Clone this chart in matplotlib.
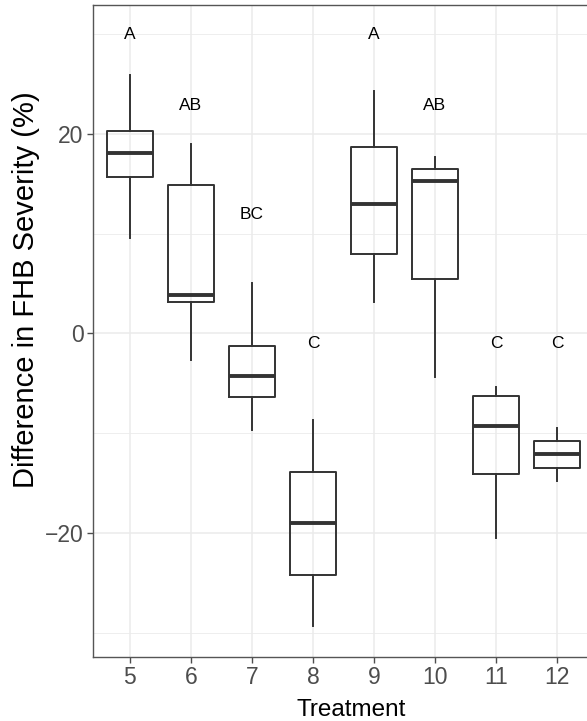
import matplotlib.pyplot as plt
import numpy as np

plt.rcParams['font.family'] = ['Liberation Sans', 'DejaVu Sans']

# box summary per treatment
treatments = ['5', '6', '7', '8', '9', '10', '11', '12']
whisker_low = [9.6, -2.7, -9.7, -29.3, 3.1, -4.4, -20.5, -14.8]
q1 = [15.7, 3.1, -6.4, -24.2, 8.0, 5.4, -14.1, -13.5]
medians = [18.1, 3.8, -4.3, -19.0, 13.0, 15.3, -9.3, -12.1]
q3 = [20.3, 14.9, -1.3, -13.9, 18.7, 16.5, -6.3, -10.8]
whisker_high = [25.9, 19.0, 5.0, -8.7, 24.3, 17.7, -5.4, -9.5]

# significance letters and their heights
letters = ['A', 'AB', 'BC', 'C', 'A', 'AB', 'C', 'C']
letter_y = [29.9, 22.8, 11.9, -1.0, 29.9, 22.8, -1.0, -1.0]

stats = []
for i in range(len(treatments)):
    stats.append(dict(whislo=whisker_low[i], q1=q1[i], med=medians[i],
                      q3=q3[i], whishi=whisker_high[i], fliers=[]))

fig = plt.figure(figsize=(5.87, 7.21), dpi=100)
ax = fig.add_axes([93.3 / 587, 1 - 656.7 / 721, (593.6 - 93.3) / 587, (656.7 - 5) / 721])

x = np.arange(1, len(treatments) + 1)
line = dict(color='#333333', linewidth=1.4)
ax.bxp(stats, positions=x, widths=0.75, showfliers=False, showcaps=False,
       boxprops=line, whiskerprops=line,
       medianprops=dict(color='#333333', linewidth=2.8, solid_capstyle='butt'),
       zorder=3)

for xi, lab, yi in zip(x, letters, letter_y):
    ax.text(xi, yi, lab, ha='center', va='center', fontsize=12.5, color='black')

ax.set_xlim(0.4, len(treatments) + 0.6)
ax.set_ylim(-32.4, 32.9)
ax.set_xticks(x)
ax.set_xticklabels(treatments)
ax.set_yticks([-20, 0, 20])
ax.set_yticks([-30, -10, 10, 30], minor=True)

ax.grid(which='major', color='#EBEBEB', linewidth=1.1, zorder=0)
ax.grid(which='minor', axis='y', color='#EBEBEB', linewidth=0.6, zorder=0)
ax.set_axisbelow(True)

for s in ax.spines.values():
    s.set_color('#555555')
    s.set_linewidth(1.0)

ax.tick_params(axis='both', which='major', colors='#4D4D4D', labelsize=16.5,
               length=4, width=1.0, pad=3)
ax.tick_params(axis='y', which='minor', length=0)

ax.set_xlabel('Treatment', fontsize=17.5)
ax.set_ylabel('Difference in FHB Severity (%)', fontsize=21)
ax.xaxis.set_label_coords(0.515, -0.065)
ax.yaxis.set_label_coords(-0.1065, 0.5627)

fig.savefig('out.png', dpi=100)
